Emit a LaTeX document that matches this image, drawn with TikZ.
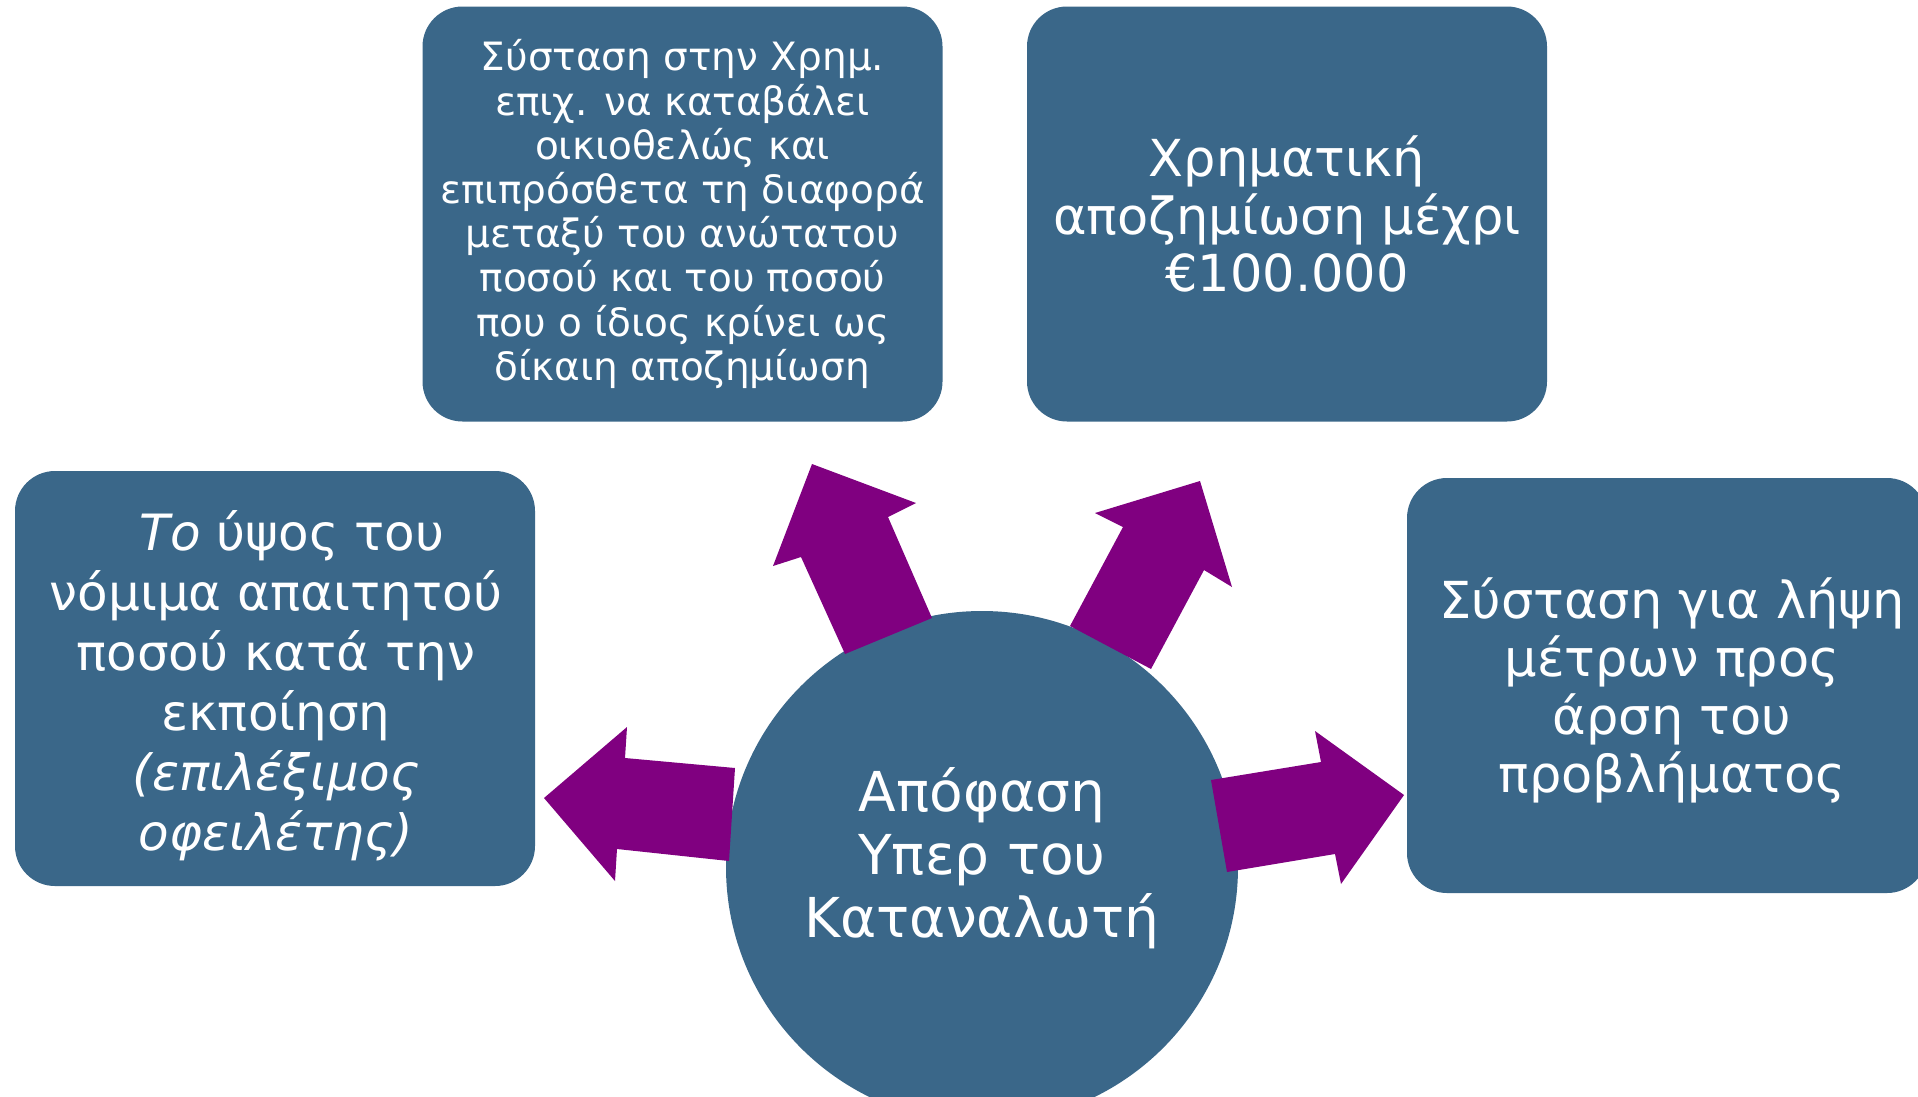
\documentclass[tikz,border=0pt]{standalone}
\usepackage{fontspec}
\setmainfont{DejaVu Sans}
\definecolor{boxblue}{HTML}{3A6789}
\definecolor{arrowpurple}{HTML}{800080}
\begin{document}
\begin{tikzpicture}[x=1pt,y=-1pt,
  box/.style={fill=boxblue, rounded corners=40pt, text=white, align=center, inner sep=0pt, minimum width=520pt, minimum height=415pt},
  boxtext/.style={text=white, align=center, inner sep=0pt},
  hub/.style={circle, fill=boxblue, inner sep=0pt, minimum size=512pt},
  blockarrow/.style={fill=arrowpurple}]
\useasboundingbox (0,0) rectangle (1918,1096);
\clip (0,0) rectangle (1918,1096);
\fill[white] (0,0) rectangle (1918,1096);

\node[box, font=\fontsize{39}{44.2}\selectfont] (mid) at (682.5,214) {Σύσταση στην Χρημ.\\επιχ. να καταβάλει\\οικιοθελώς και\\επιπρόσθετα τη διαφορά\\μεταξύ του ανώτατου\\ποσού και του ποσού\\που ο ίδιος κρίνει ως\\δίκαιη αποζημίωση};
\node[box, font=\fontsize{51}{57.5}\selectfont] (topr) at (1287,214) {Χρηματική\\αποζημίωση μέχρι\\€100.000};
\node[box] (left) at (275,678.5) {};
\node[boxtext, font=\fontsize{50}{60}\selectfont] (leftt) at (276,686) {\ \ \textit{Το} ύψος του\\νόμιμα απαιτητού\\ποσού κατά την\\εκποίηση\\\textit{(επιλέξιμος}\\\textit{οφειλέτης)}};
\node[box] (right) at (1667,685.5) {};
\node[boxtext, font=\fontsize{51}{58}\selectfont] (rightt) at (1672,690) {Σύσταση για λήψη\\μέτρων προς\\άρση του\\προβλήματος};

\node[hub] (hub) at (982,867) {};
\node[boxtext, font=\fontsize{55}{63}\selectfont] (hubt) at (982,858) {Απόφαση\\Υπερ του\\Καταναλωτή};

% block arrows from the hub towards the boxes
\fill[blockarrow] (735,768) -- (625,758) -- (627,727) -- (544,798) -- (615,881) -- (617,849) -- (729,861) -- cycle;
\fill[blockarrow] (845,654) -- (801,557) -- (773,566) -- (812,464) -- (916,503) -- (888,517) -- (932,618) -- cycle;
\fill[blockarrow] (1070,626) -- (1123,527) -- (1095,513) -- (1200,481) -- (1232,587) -- (1204,570) -- (1151,669) -- cycle;
\fill[blockarrow] (1211,780) -- (1321,762) -- (1315,731) -- (1404,795) -- (1341,884) -- (1335,854) -- (1227,872) -- cycle;
\end{tikzpicture}
\end{document}
